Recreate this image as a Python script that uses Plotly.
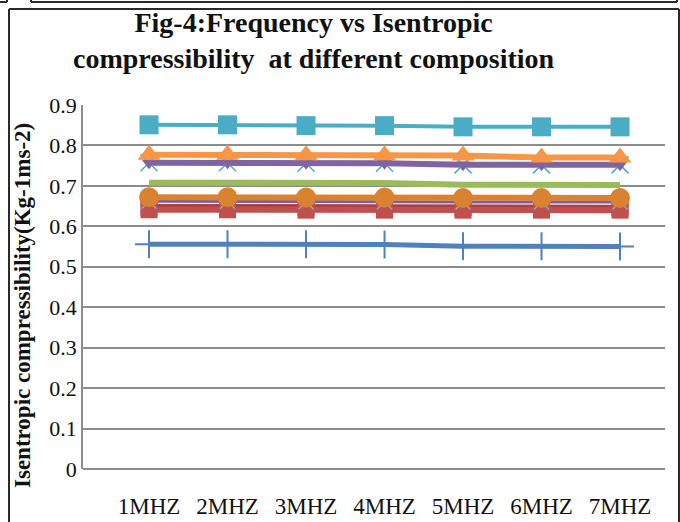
import plotly.graph_objects as go

categories = ["1MHZ", "2MHZ", "3MHZ", "4MHZ", "5MHZ", "6MHZ", "7MHZ"]
y_ticks = [0, 0.1, 0.2, 0.3, 0.4, 0.5, 0.6, 0.7, 0.8, 0.9]
y_tick_labels = ["0", "0.1", "0.2", "0.3", "0.4", "0.5", "0.6", "0.7", "0.8", "0.9"]

s_blue = [0.556, 0.556, 0.556, 0.555, 0.551, 0.551, 0.550]
s_red = [0.641, 0.641, 0.640, 0.640, 0.640, 0.640, 0.640]
s_darkred = [0.648, 0.648, 0.647, 0.647, 0.646, 0.646, 0.646]
s_purple2 = [0.662, 0.662, 0.661, 0.661, 0.660, 0.660, 0.660]
s_green = [0.708, 0.708, 0.707, 0.707, 0.703, 0.702, 0.702]
s_purple = [0.757, 0.757, 0.756, 0.756, 0.752, 0.752, 0.752]
s_orange = [0.777, 0.777, 0.776, 0.776, 0.775, 0.770, 0.770]
s_brown = [0.672, 0.672, 0.671, 0.671, 0.670, 0.670, 0.670]
s_aqua = [0.851, 0.851, 0.849, 0.849, 0.846, 0.846, 0.846]

x = list(range(len(categories)))

fig = go.Figure()

def add(y, color, symbol, size, width, mcolor=None, mline=None, mlw=0):
    fig.add_trace(go.Scatter(
        x=x, y=y, mode="lines+markers",
        line=dict(color=color, width=width),
        marker=dict(symbol=symbol, size=size, color=mcolor or color,
                    line=dict(color=mline or (mcolor or color), width=mlw)),
        showlegend=False, hoverinfo="skip"))

add(s_blue, "#4F81BD", "cross-thin", 20, 5, mline="#4F81BD", mlw=2)
add(s_darkred, "#A8423F", "square", 17, 6)
add(s_red, "#C0504D", "square", 17, 6)
add(s_purple2, "#7E5C9E", "x-thin", 15, 3, mline="#8BA8D0", mlw=1.5)
add(s_green, "#9BBB59", "triangle-up", 1, 6)
add(s_purple, "#8064A2", "x-thin", 17, 6, mline="#4BACC6", mlw=1.5)
add(s_purple, "#8064A2", "triangle-down", 13, 0.1)
add(s_orange, "#F79646", "triangle-up", 20, 6)
add(s_brown, "#D9822F", "circle", 20, 6)
add(s_aqua, "#4BACC6", "square", 19, 4)

# pixel -> paper helpers (plot area: x 83..665, y 469..105)
def px(v):
    return (v - 83) / 582.0

def py(v):
    return (469 - v) / 364.0

frame = "#2a2a2a"
segs = [
    (9, 9, 679, 9), (9, 9, 9, 540), (679, 9, 679, 540),
    (0, 2, 7, 2), (7, 2, 7, -5),
    (31, 2, 677, 2), (31, 2, 31, -5), (677, 2, 677, -5),
]
for x0, y0, x1, y1 in segs:
    fig.add_shape(type="line", xref="paper", yref="paper",
                  x0=px(x0), y0=py(y0), x1=px(x1), y1=py(y1),
                  line=dict(color=frame, width=2))

fig.add_annotation(text="<b>Isentropic compressibility(Kg-1ms-2)</b>",
                   xref="paper", yref="paper", x=px(22), y=py(306),
                   textangle=-90, showarrow=False, xanchor="center", yanchor="middle",
                   font=dict(size=23, family="Liberation Serif", color="#111"))

fig.add_annotation(text="<b>Fig-4:Frequency vs Isentropic<br>compressibility  at different composition</b>",
                   xref="paper", yref="paper", x=px(314), y=py(41),
                   showarrow=False, xanchor="center", yanchor="middle",
                   font=dict(size=28, family="Liberation Serif", color="#111"))

fig.update_layout(
    width=680, height=522,
    margin=dict(l=83, r=15, t=105, b=53),
    paper_bgcolor="white", plot_bgcolor="white",
    font=dict(family="Liberation Serif", color="#111"),
    xaxis=dict(range=[-0.841, 6.573], tickvals=x, ticktext=categories, automargin=False,
               showgrid=False, zeroline=False, showline=False,
               ticks="outside", ticklen=16, tickcolor="rgba(0,0,0,0)",
               tickfont=dict(size=23, family="Liberation Serif", color="#111")),
    yaxis=dict(range=[0, 0.9], tickvals=y_ticks, ticktext=y_tick_labels, automargin=False,
               showgrid=True, gridcolor="#8c8c8c", gridwidth=1.5,
               zeroline=True, zerolinecolor="#8c8c8c", zerolinewidth=1.5,
               showline=True, linecolor="#8c8c8c", linewidth=1.5,
               ticks="", ticklabelstandoff=0,
               tickfont=dict(size=22, family="Liberation Serif", color="#111")),
)

fig.write_html("out.html", config={"displayModeBar": False},
               post_script="document.body.style.margin='0';document.body.style.overflow='hidden';")
